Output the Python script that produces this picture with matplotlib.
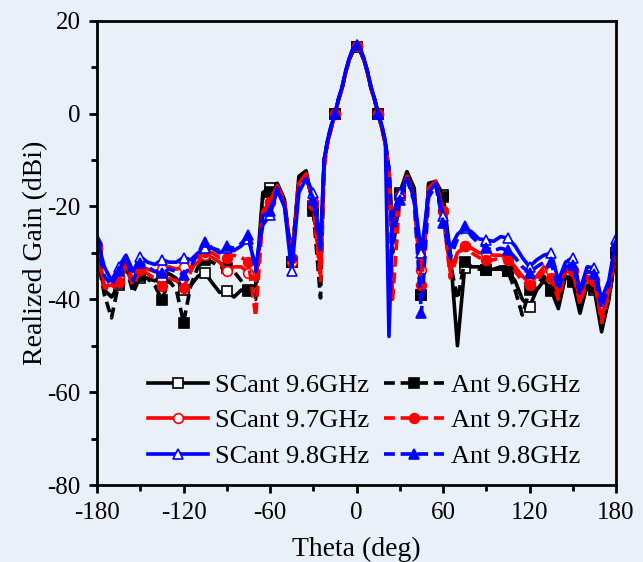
import numpy as np
import matplotlib
matplotlib.use("Agg")
import matplotlib.pyplot as plt

plt.rcParams['font.family'] = ['Liberation Serif', 'DejaVu Serif']
plt.rcParams['axes.unicode_minus'] = False

# angulos: cada 5 grados, cada 2.5 en el lobulo principal
theta_left = list(range(-180, -24, 5))
theta_mid = list(np.arange(-22.5, 22.6, 2.5))
theta_right = list(range(25, 181, 5))
theta = np.array(theta_left + theta_mid + theta_right, dtype=float)

# SCant (linea continua, marcador hueco)
scant_96 = [-30, -38, -39.5, -37, -33, -37, -35.4, -35.5, -36,
            -35.1, -34.5, -35.5, -38, -37, -35, -34.4, -36.5, -38.5,
            -38.3, -39.5, -38, -38.3, -37, -17, -16, -15, -18.5,
            -32, -13.5, -12.3, -20, -33,
            -10, -6, -3, 0, 3, 5.5, 9, 11.6, 13.5, 14.3,
            13.5, 11.6, 9, 5.5, 3, 0, -3, -6.5, -12,
            -25, -17, -12.5, -16, -39, -15, -14.6, -17.5, -30,
            -50, -33.2, -33, -33, -33.7, -33.5, -33, -34, -36,
            -40, -41.6, -38, -36, -38, -42, -35, -36.2, -43,
            -37, -38, -47, -40, -30]
scant_97 = [-28.5, -37, -37, -35, -32, -36, -33, -33.5, -34,
            -33.5, -33, -33.5, -33, -33, -32, -30.5, -31, -32,
            -34, -33, -33, -34.3, -36, -21, -19, -15.5, -19.5,
            -32, -15, -13, -19, -34,
            -10, -6, -3, 0, 3, 5.5, 9, 11.8, 13.8, 14.5,
            13.8, 11.8, 9, 5.5, 3, 0, -3, -6.5, -12,
            -27, -17.5, -13.5, -18, -33.7, -16, -14.5, -21, -34,
            -30, -28.6, -29, -30, -30, -30.5, -30.5, -31, -33,
            -35, -36.5, -35, -33, -34, -39, -33, -33.7, -40,
            -35, -35.8, -44, -38, -28]
scant_98 = [-27, -33, -36, -33, -30.5, -34, -30.8, -32, -32.5,
            -31.5, -32, -32, -31, -31.5, -30, -29, -29, -30,
            -29, -29.5, -28.5, -27, -33, -24, -21.8, -16.5, -20,
            -34, -17, -14, -17, -28,
            -10, -5.5, -2.5, 0, 3.2, 5.8, 9.2, 12, 14, 14.8,
            14, 12, 9.2, 5.8, 3.2, 0, -2.5, -6, -48,
            -22, -17, -14, -18, -30, -17, -15, -22, -29,
            -26, -24.6, -25.5, -27, -27.2, -27.5, -26.5, -26.8, -28.5,
            -31, -33, -31.5, -30.5, -30, -36, -32, -31, -38,
            -33, -33.2, -40, -36, -27]

# Ant (linea discontinua, marcador relleno)
ant_96 = [-30, -39, -44, -36.5, -33, -38.6, -35, -35.5, -37,
          -40.1, -36, -38, -45, -37, -33, -31.5, -32, -33,
          -33.2, -34, -36, -38, -40, -18, -16.8, -15.5, -19,
          -31.9, -14, -12.5, -21, -39.7,
          -11, -6, -3, 0, 3, 5.5, 9, 11.6, 13.5, 14.3,
          13.5, 11.6, 9, 5.5, 3, 0, -3, -6.5, -13,
          -30, -17.5, -13, -17, -39, -15.5, -15, -18, -32,
          -40, -31.9, -33, -33.5, -33.7, -33.5, -33.5, -34, -38,
          -43.4, -38, -37, -35, -38.3, -41, -35, -36, -42,
          -37, -37.5, -46, -40, -30]
ant_97 = [-29, -37.5, -38, -36.2, -33, -37, -33.7, -34.5, -35.5,
          -37.2, -35.5, -36, -37.5, -34, -31, -29.7, -30, -31,
          -31, -30.5, -31, -31.9, -43.7, -22, -19, -15.5, -19,
          -31, -15, -13, -19.7, -36,
          -12, -6, -3, 0, 3, 5.5, 9, 11.8, 13.8, 14.5,
          13.8, 11.8, 9, 5.5, 3, 0, -3, -6.5, -14,
          -40, -18, -13.5, -18.5, -37, -16.5, -15, -21, -35.4,
          -30.5, -28.6, -30, -31, -31.5, -31.5, -31, -31.5, -34,
          -36, -36.9, -36, -34, -35.4, -40, -34, -34, -41,
          -36, -36, -45, -39, -29]
ant_98 = [-27.5, -35, -37, -34, -31, -36, -32.2, -33, -34,
          -34.4, -33.5, -34, -34.7, -33, -30, -27.6, -29, -29.5,
          -28.6, -29, -28, -26.1, -34, -22, -21, -16, -20,
          -30.4, -16, -14, -18.6, -30,
          -10, -5.5, -2.5, 0, 3.2, 5.8, 9.2, 12, 14, 14.8,
          14, 12, 9.2, 5.8, 3.2, 0, -2.5, -6, -12,
          -28, -18.6, -14, -19, -43, -18, -15.5, -23.5, -31,
          -27, -24.3, -26.5, -28, -28.9, -29.5, -29, -29.4, -31,
          -33, -34.3, -33, -32, -32, -38, -33, -32.5, -39,
          -34, -34.5, -42, -37, -28]

bg = '#e9f0f8'
fig = plt.figure(figsize=(6.43, 5.62), dpi=100, facecolor=bg)
ax = fig.add_axes([0.151, 0.137, 0.807, 0.826], facecolor=bg)

# marcadores cada 15 grados
mk = [i for i, t in enumerate(theta) if t % 15 == 0]
lw = 2.6
ms = 7
dash = (0, (3, 1.6))

series = [
    (scant_96, 'k', 's', '-', 'white', 'SCant 9.6GHz'),
    (ant_96, 'k', 's', dash, 'k', 'Ant 9.6GHz'),
    (scant_97, 'red', 'o', '-', 'white', 'SCant 9.7GHz'),
    (ant_97, 'red', 'o', dash, 'red', 'Ant 9.7GHz'),
    (scant_98, 'blue', '^', '-', 'white', 'SCant 9.8GHz'),
    (ant_98, 'blue', '^', dash, 'blue', 'Ant 9.8GHz'),
]
h = {}
for vals, c, m, ls, fc, lab in series:
    ln, = ax.plot(theta, vals, color=c, ls=ls, lw=lw, marker=m, ms=ms,
                  mfc=fc, mec=c, mew=1.2, markevery=mk, label=lab)
    h[lab] = ln

ax.set_xlim(-180, 180)
ax.set_ylim(-80, 20)
ax.set_xticks(np.arange(-180, 181, 60))
ax.set_xticks(np.arange(-180, 181, 30), minor=True)
ax.set_yticks(np.arange(-80, 21, 20))
ax.set_yticks(np.arange(-80, 21, 10), minor=True)
ax.tick_params(which='major', direction='out', length=6, width=2, pad=6,
               labelsize=18, top=False, right=False)
ax.tick_params(which='minor', direction='out', length=4, width=2,
               top=False, right=False)
for s in ax.spines.values():
    s.set_linewidth(2)

ax.set_xlabel('Theta (deg)', fontsize=20)
ax.set_ylabel('Realized Gain (dBi)', fontsize=20)
ax.xaxis.set_label_coords(0.5, -0.112)
ax.yaxis.set_label_coords(-0.094, 0.5)

order = ['SCant 9.6GHz', 'SCant 9.7GHz', 'SCant 9.8GHz',
         'Ant 9.6GHz', 'Ant 9.7GHz', 'Ant 9.8GHz']
ax.legend([h[k] for k in order], order, ncol=2, frameon=False,
          fontsize=19, handlelength=2.27, handletextpad=0.27,
          columnspacing=0.57, labelspacing=0.45, borderpad=0,
          borderaxespad=0, loc='upper left', bbox_to_anchor=(0.098, 0.240))

fig.savefig('out.png', dpi=100, facecolor=bg)
